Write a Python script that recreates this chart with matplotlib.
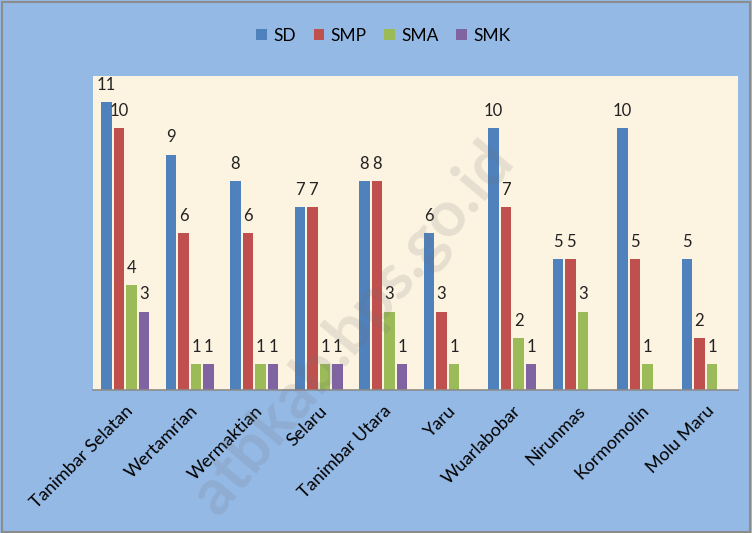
import numpy as np
import matplotlib
matplotlib.use("Agg")
import matplotlib.pyplot as plt
from matplotlib.patches import Rectangle

# data
kecamatan = ["Tanimbar Selatan", "Wertamrian", "Wermaktian", "Selaru", "Tanimbar Utara",
             "Yaru", "Wuarlabobar", "Nirunmas", "Kormomolin", "Molu Maru"]
sd = [11, 9, 8, 7, 8, 6, 10, 5, 10, 5]
smp = [10, 6, 6, 7, 8, 3, 7, 5, 5, 2]
sma = [4, 1, 1, 1, 3, 1, 2, 3, 1, 1]
smk = [3, 1, 1, 1, 1, np.nan, 1, np.nan, np.nan, np.nan]

series = {"SD": sd, "SMP": smp, "SMA": sma, "SMK": smk}
colors = ["#4F81BD", "#C0504D", "#9BBB59", "#8064A2"]

plt.rcParams["font.family"] = ["Lato", "DejaVu Sans"]

fig = plt.figure(figsize=(7.52, 5.33), dpi=100)
fig.patch.set_facecolor("#95B9E5")
fig.patches.append(Rectangle((0.002, 0.002), 0.996, 0.994, transform=fig.transFigure,
                             fill=False, edgecolor="#8C8C8C", linewidth=1.5))

ax = fig.add_axes([93 / 752, 1 - 390 / 533, (738 - 93) / 752, (390 - 76) / 533])
ax.set_facecolor("#FDF3E1")

x = np.arange(len(kecamatan))
step = 0.195
width = 0.165
for i, (name, vals) in enumerate(series.items()):
    pos = x + (i - 1.5) * step
    bars = ax.bar(pos, vals, width=width, color=colors[i], label=name)
    for p, v in zip(pos, vals):
        if not np.isnan(v):
            ax.text(p, v + 0.35, f"{int(v)}", ha="center", va="bottom", fontsize=12, color="#222222")

ax.set_xlim(-0.5, len(kecamatan) - 0.5)
ax.set_ylim(0, 12)
ax.set_yticks([])
ax.set_xticks(x)
ax.set_xticklabels(kecamatan, rotation=45, ha="right", va="top", rotation_mode="anchor", fontsize=13)
ax.tick_params(axis="x", length=0, pad=9)
for s in ["top", "right", "left"]:
    ax.spines[s].set_visible(False)
ax.spines["bottom"].set_color("#8C8C8C")
ax.spines["bottom"].set_linewidth(1.2)

fig.legend(loc="center", bbox_to_anchor=(0.51, 1 - 36 / 533), ncol=4, frameon=False,
           fontsize=12.5, handlelength=0.6, handleheight=0.6, columnspacing=1.0, handletextpad=0.4)

# faint watermark
fig.text(0.47, 0.385, "atbkab.bps.go.id", fontsize=46, fontweight="bold", color="#707070",
         alpha=0.16, rotation=50, ha="center", va="center")

fig.savefig("out.png", dpi=100, facecolor=fig.get_facecolor())
